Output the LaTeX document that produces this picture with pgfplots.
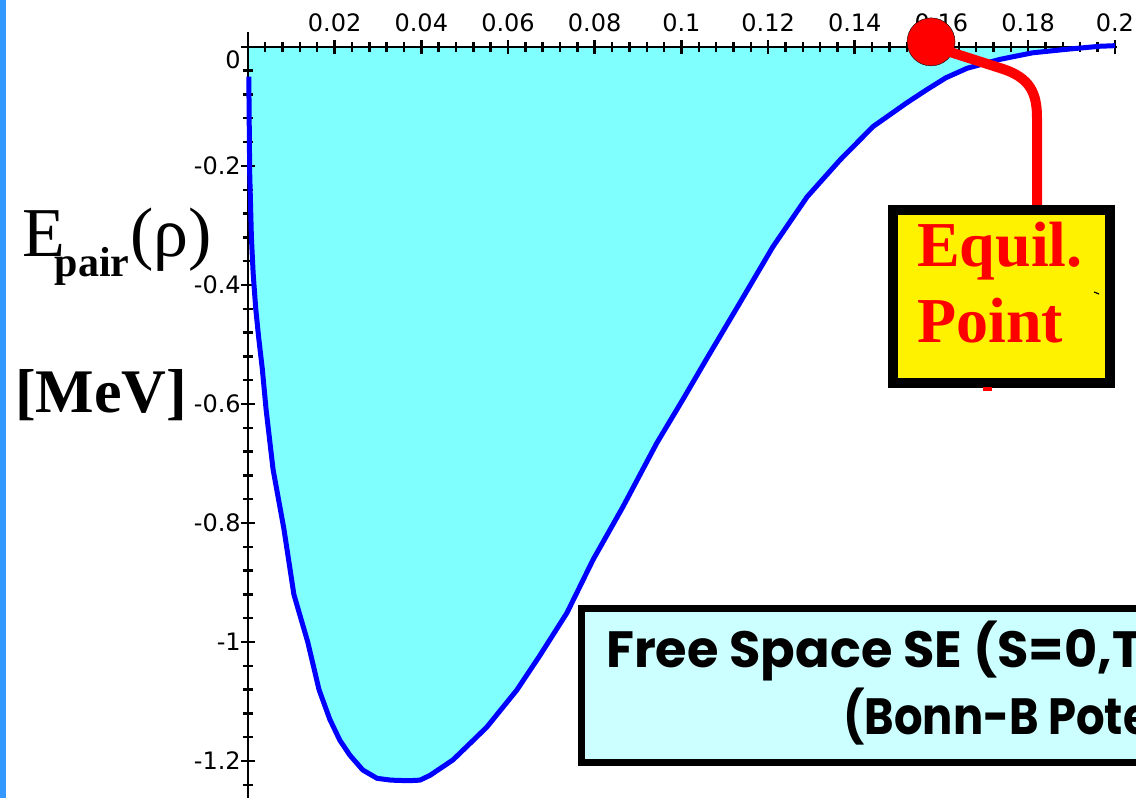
\documentclass[border=0pt]{standalone}
\usepackage{fontspec}
\usepackage{pgfplots}
\pgfplotsset{compat=1.18}
\setmainfont{DejaVu Sans}
\newfontfamily\tnr{Liberation Serif}
\newfontfamily\comic{Poppins}
\definecolor{fillcyan}{RGB}{128,255,255}
\definecolor{boxcyan}{RGB}{204,255,255}
\definecolor{stripblue}{RGB}{51,153,255}
\definecolor{curveblue}{RGB}{0,0,255}
\pgfplotstableread{
x y
0.0002 -0.05
0.0004 -0.21
0.0008 -0.32
0.0012 -0.38
0.0018 -0.44
0.0025 -0.49
0.0033 -0.54
0.0042 -0.61
0.0058 -0.71
0.0083 -0.81
0.0106 -0.92
0.0138 -1.00
0.0164 -1.08
0.0189 -1.13
0.0212 -1.165
0.0235 -1.19
0.0265 -1.215
0.0298 -1.229
0.0330 -1.232
0.0370 -1.233
0.0397 -1.232
0.0420 -1.224
0.0473 -1.198
0.0510 -1.172
0.0551 -1.143
0.0620 -1.081
0.0674 -1.022
0.0736 -0.951
0.0796 -0.862
0.0865 -0.773
0.0943 -0.666
0.1003 -0.593
0.1060 -0.522
0.1135 -0.430
0.1211 -0.336
0.1290 -0.252
0.1366 -0.190
0.1442 -0.134
0.1520 -0.094
0.1566 -0.072
0.1610 -0.052
0.1659 -0.036
0.1735 -0.021
0.1810 -0.010
0.1890 -0.004
0.1965 0.001
0.2000 0.002
}\curve
\begin{document}
\begin{tikzpicture}
\path (0pt,0pt) rectangle (1136pt,798pt);
\fill[stripblue] (0pt,0pt) rectangle (6pt,798pt);
\begin{axis}[
  set layers,
  at={(241pt,0pt)}, anchor=south west,
  scale only axis, width=876pt, height=766pt,
  xmin=-0.0016, xmax=0.2005, ymin=-1.262, ymax=0.025,
  axis lines*=middle,
  axis line style={line width=2.6pt, black},
  xtick={0.02,0.04,0.06,0.08,0.1,0.12,0.14,0.16,0.18,0.2},
  xticklabels={0.02,0.04,0.06,0.08,0.1,0.12,0.14,0.16,0.18,0.2},
  ytick={-1.2,-1,-0.8,-0.6,-0.4,-0.2,0},
  yticklabels={-1.2,-1,-0.8,-0.6,-0.4,-0.2,\raisebox{-21.5pt}[0pt][0pt]{0}},
  minor xtick={0.004,0.008,...,0.197},
  minor ytick={-1.24,-1.2,...,-0.02},
  tick align=center, major tick length=14pt, minor tick length=10pt,
  every tick/.append style={line width=2.6pt, black},
  every major tick/.append style={line width=2.6pt, black},
  every minor tick/.append style={line width=2.4pt, black},
  major tick style={line width=2.6pt, black},
  minor tick style={line width=2.4pt, black},
  hide obscured x ticks=false, hide obscured y ticks=false,
  xticklabel style={anchor=base, inner sep=0pt, yshift=22pt},
  yticklabel style={anchor=east, inner sep=0pt, xshift=0pt},
  ticklabel style={font=\fontsize{24}{28}\selectfont},
  clip=false,
]
\addplot[draw=none, fill=fillcyan, on layer=axis background] table[x=x,y=y] {\curve} \closedcycle;
\addplot[curveblue, line width=5pt, line join=round] table[x=x,y=y] {\curve};
\addplot[only marks, mark=*, mark size=24pt, mark options={fill=red, draw=none}] coordinates {(0.1576,0.0084)};
\end{axis}
\begin{scope}[x=1pt,y=1pt]
\draw[red, line width=10pt, line cap=round] (950,746) -- (1003,729) .. controls (1030,720) and (1037,705) .. (1037,680) -- (1037,590);
\draw[line width=10pt, fill=yellow] (893,415) rectangle (1110,588);
\fill[red] (983,407) rectangle (992,411);
\draw[line width=1.2pt] (1094,506) -- (1099,504);
\node[anchor=base west, inner sep=0pt, text=red, font=\tnr\bfseries\fontsize{64}{76}\selectfont] at (917,531) {Equil.};
\node[anchor=base west, inner sep=0pt, text=red, font=\tnr\bfseries\fontsize{64}{76}\selectfont] at (917,455) {Point};
\node[anchor=base west, inner sep=0pt, font=\tnr\fontsize{70}{80}\selectfont] at (22,541) {E\kern-10pt\raisebox{-20pt}{\bfseries\fontsize{42}{50}\selectfont pair}\kern1pt(ρ)};
\node[anchor=base west, inner sep=0pt, font=\tnr\bfseries\fontsize{62}{72}\selectfont] at (15,385) {[MeV]};
\end{scope}
\begin{scope}[x=1pt,y=1pt]
\clip (0,0) rectangle (1136,798);
\draw[line width=7pt, fill=boxcyan] (581.5,35.5) rectangle (1170,189.5);
\node[anchor=base west, inner sep=0pt, font=\comic\bfseries\fontsize{51}{60}\selectfont] at (606,130) {Free Space SE (S=0,T=1)};
\node[anchor=base west, inner sep=0pt, font=\comic\bfseries\fontsize{51}{60}\selectfont] at (843,63) {\scalebox{0.88}[1]{(Bonn-B Potential)}};
\end{scope}
\end{tikzpicture}
\end{document}
